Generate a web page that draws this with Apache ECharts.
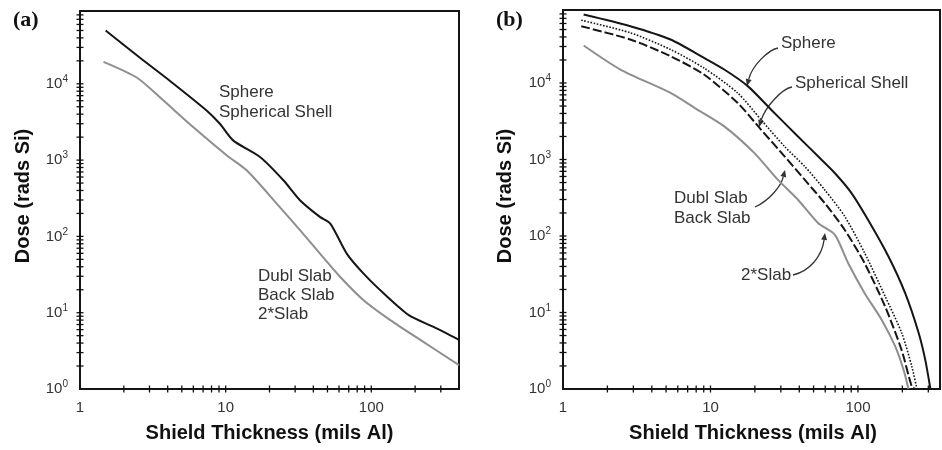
<!DOCTYPE html>
<html><head><meta charset="utf-8">
<script src="https://cdn.jsdelivr.net/npm/echarts@6/dist/echarts.min.js"></script>
<style>html,body{margin:0;padding:0;background:#fff}#c{width:942px;height:450px}</style>
</head><body><div id="c"></div>
<script>
// ---------- data ----------
// Panel (a)
const aUpperX = [1.5, 2.58, 4.15, 7.43, 9.16, 11.3, 17.3, 25, 32.5, 44.6, 52.3, 68, 88.5, 122, 181, 268, 400];
const aUpperY = [50000, 21900, 10900, 4440, 2970, 1800, 1090, 540, 296, 179, 147, 59, 32.5, 17.8, 9.3, 6.5, 4.4];
const aLowerX = [1.45, 2.45, 3.55, 6.01, 10.2, 14, 22.5, 32.5, 44.6, 61.2, 88.5, 135, 217, 400];
const aLowerY = [19400, 12100, 6620, 2690, 1150, 729, 267, 120, 59, 29.4, 14.6, 8.0, 4.4, 2.06];
// Panel (b)
const bSphereX = [1.38, 2.86, 5.36, 9.04, 12.4, 17.9, 25.8, 39.2, 53.6, 69.6, 90.4, 117, 161, 209, 258, 286, 310];
const bSphereY = [78500, 55200, 37000, 21300, 15000, 9100, 4480, 2000, 1100, 666, 364, 163, 54, 17.9, 5.4, 2.4, 1];
const bShellX = [1.33, 2.86, 5.36, 9.04, 15.3, 22, 31.8, 43.5, 59.4, 81.4, 111, 153, 198, 232, 251];
const bShellY = [66200, 45300, 27400, 15700, 7400, 3320, 1480, 813, 403, 180, 60, 16.2, 5.4, 1.96, 1];
const bSlabX = [1.33, 2.86, 5.36, 9.04, 15.3, 22, 31.8, 43.5, 59.4, 81.4, 111, 153, 198, 232, 244];
const bSlabY = [55200, 37000, 22400, 12900, 5480, 2460, 1100, 545, 270, 120, 44, 11.9, 3.2, 1.07, 1];
const b2SlabX = [1.38, 2.45, 5.36, 8.15, 12.4, 19.8, 28.6, 39.2, 53.6, 69.6, 85.9, 111, 145, 179, 204, 220];
const b2SlabY = [30900, 15000, 7420, 4490, 2710, 1220, 545, 298, 148, 104, 44, 17.9, 8.0, 3.6, 1.77, 1];
// Axis ticks
const xTickVals = [2,3,4,5,6,7,8,9,10,20,30,40,50,60,70,80,90,100,200,300];
const yTickVals = [2,3,4,5,6,7,8,9,10,20,30,40,50,60,70,80,90,100,200,300,400,500,600,700,800,900,
  1000,2000,3000,4000,5000,6000,7000,8000,9000,10000,20000,30000,40000,50000,60000,70000,80000];
const xLabelVals = [1, 10, 100];
const yMin = 1, yMax = 90000, xMin = 1, xMaxA = 400, xMaxB = 360;

// ---------- chart ----------
const FONT = '"Liberation Sans", Arial, Helvetica, sans-serif';
const chart = echarts.init(document.getElementById('c'), null, {renderer: 'canvas'});
const zip = (xs, ys) => xs.map((x, i) => [x, ys[i]]);
const isPow10 = v => { const e = Math.round(Math.log10(v)); return Math.abs(v - Math.pow(10, e)) < 1e-6 * v ? e : null; };

function xAxis(gi, max) {
  return {type: 'log', logBase: 10, gridIndex: gi, min: xMin, max: max,
    axisLine: {show: false}, axisTick: {show: false}, splitLine: {show: false},
    axisLabel: {margin: 11, fontSize: 15, color: '#333', fontFamily: FONT, showMaxLabel: false,
      formatter: v => (xLabelVals.indexOf(Math.round(v)) >= 0 && isPow10(v) !== null) ? String(Math.round(v)) : ''}};
}
function yAxis(gi) {
  return {type: 'log', logBase: 10, gridIndex: gi, min: yMin, max: yMax,
    axisLine: {show: false}, axisTick: {show: false}, splitLine: {show: false},
    axisLabel: {margin: 12, color: '#333', fontFamily: FONT, showMaxLabel: false,
      formatter: v => { const e = isPow10(v); return e === null ? '' : '{b|10}{s|' + e + '}'; },
      rich: {b: {fontSize: 15, color: '#333', fontFamily: FONT},
             s: {fontSize: 10, color: '#333', fontFamily: FONT, padding: [0, 0, 9, 0]}}}};
}
function tickSeries(gi, vals, dir) {
  return {type: 'custom', xAxisIndex: gi, yAxisIndex: gi, clip: false, silent: true, z: 10,
    data: vals.map(v => dir === 'x' ? [v, yMin] : [xMin, v]),
    renderItem: (params, api) => {
      const p = api.coord([api.value(0), api.value(1)]);
      const h = 3.5;
      return {type: 'line',
        shape: dir === 'x' ? {x1: p[0], y1: p[1] - h, x2: p[0], y2: p[1] + h}
                            : {x1: p[0] - h, y1: p[1], x2: p[0] + h, y2: p[1]},
        style: {stroke: '#111', lineWidth: 1.3}};
    }};
}
function line(gi, name, xs, ys, color, width, type) {
  return {type: 'line', name: name, xAxisIndex: gi, yAxisIndex: gi, data: zip(xs, ys),
    showSymbol: false, symbol: 'none', smooth: 0.25, silent: true, z: 3,
    lineStyle: {color: color, width: width, type: type || 'solid'}};
}

const BLACK = '#151515', GRAY = '#8e8e8e';
const txt = (x, y, s, extra) => Object.assign({type: 'text', x: x, y: y, silent: true,
  style: {text: s, font: '17px ' + FONT, fill: '#333', textVerticalAlign: 'middle'}}, extra || {});

function arrow(p0, c1, c2, p1) {
  const dx = p1[0] - c2[0], dy = p1[1] - c2[1], L = Math.hypot(dx, dy);
  const ux = dx / L, uy = dy / L, len = 7, w = 3;
  const bx = p1[0] - ux * len, by = p1[1] - uy * len;
  return [
    {type: 'bezierCurve', silent: true, shape: {x1: p0[0], y1: p0[1], cpx1: c1[0], cpy1: c1[1], cpx2: c2[0], cpy2: c2[1], x2: bx, y2: by},
      style: {stroke: '#333', lineWidth: 1.3, fill: null}},
    {type: 'polygon', silent: true, shape: {points: [p1, [bx - uy * w, by + ux * w], [bx + uy * w, by - ux * w]]},
      style: {fill: '#333'}}
  ];
}

const option = {
  animation: false,
  backgroundColor: '#fff',
  grid: [
    {left: 80, top: 11, width: 379, height: 378, show: true, borderColor: BLACK, borderWidth: 2, backgroundColor: 'transparent'},
    {left: 563, top: 10, width: 377, height: 379, show: true, borderColor: BLACK, borderWidth: 2, backgroundColor: 'transparent'}
  ],
  xAxis: [xAxis(0, xMaxA), xAxis(1, xMaxB)],
  yAxis: [yAxis(0), yAxis(1)],
  series: [
    line(0, 'Sphere / Spherical Shell', aUpperX, aUpperY, BLACK, 2),
    line(0, 'Dubl Slab / Back Slab / 2*Slab', aLowerX, aLowerY, GRAY, 2),
    line(1, 'Sphere', bSphereX, bSphereY, BLACK, 2),
    line(1, 'Spherical Shell', bShellX, bShellY, BLACK, 1.6, [1.6, 1.6]),
    line(1, 'Dubl Slab / Back Slab', bSlabX, bSlabY, BLACK, 2, [9, 3]),
    line(1, '2*Slab', b2SlabX, b2SlabY, GRAY, 2),
    tickSeries(0, xTickVals, 'x'), tickSeries(0, yTickVals, 'y'),
    tickSeries(1, xTickVals, 'x'), tickSeries(1, yTickVals, 'y')
  ],
  graphic: [
    {type: 'text', x: 13, y: 20, silent: true, style: {text: '(a)', font: 'bold 22px "Liberation Serif", "Times New Roman", serif', fill: '#111', textVerticalAlign: 'middle'}},
    {type: 'text', x: 496, y: 20, silent: true, style: {text: '(b)', font: 'bold 22px "Liberation Serif", "Times New Roman", serif', fill: '#111', textVerticalAlign: 'middle'}},
    {type: 'text', x: 269.5, y: 433, silent: true, style: {text: 'Shield Thickness (mils Al)', font: 'bold 20px ' + FONT, fill: '#111', textAlign: 'center', textVerticalAlign: 'middle'}},
    {type: 'text', x: 753, y: 433, silent: true, style: {text: 'Shield Thickness (mils Al)', font: 'bold 20px ' + FONT, fill: '#111', textAlign: 'center', textVerticalAlign: 'middle'}},
    {type: 'text', x: 23, y: 196, rotation: Math.PI / 2, silent: true, style: {text: 'Dose (rads Si)', font: 'bold 20px ' + FONT, fill: '#111', textAlign: 'center', textVerticalAlign: 'middle'}},
    {type: 'text', x: 505, y: 196, rotation: Math.PI / 2, silent: true, style: {text: 'Dose (rads Si)', font: 'bold 20px ' + FONT, fill: '#111', textAlign: 'center', textVerticalAlign: 'middle'}},
    txt(219, 92, 'Sphere'), txt(219, 112, 'Spherical Shell'),
    txt(258, 276, 'Dubl Slab'), txt(258, 295, 'Back Slab'), txt(258, 314, '2*Slab'),
    txt(781, 43, 'Sphere'), txt(795, 83, 'Spherical Shell'),
    txt(674, 198, 'Dubl Slab'), txt(674, 218, 'Back Slab'), txt(741, 275, '2*Slab')
  ].concat(
    arrow([778, 48], [768, 50], [752, 66], [747, 86]),
    arrow([792, 87], [781, 89], [765, 108], [759, 127]),
    arrow([755, 207], [770, 200], [781, 186], [785, 170]),
    arrow([793, 275], [810, 271], [822, 256], [825, 233])
  )
};
chart.setOption(option);
</script></body></html>
